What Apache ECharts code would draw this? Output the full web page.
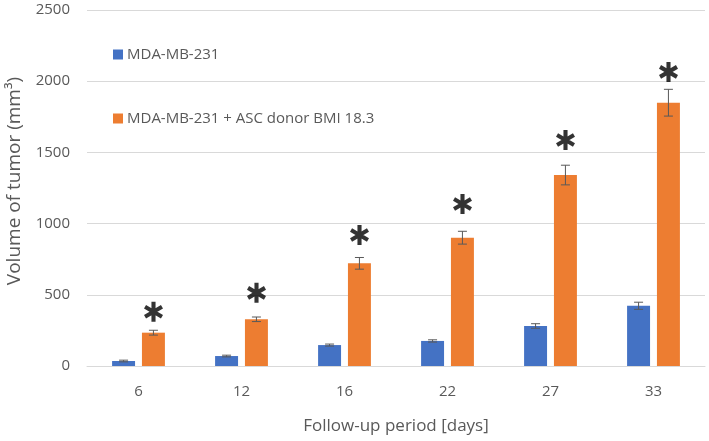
<!DOCTYPE html>
<html><head><meta charset="utf-8">
<script src="https://cdn.jsdelivr.net/npm/echarts@6/dist/echarts.min.js"></script>
<style>html,body{margin:0;padding:0;background:#fff}#c{width:709px;height:441px}</style>
</head><body><div id="c"></div>
<script>
const categories = ['6','12','16','22','27','33'];
const seriesNames = ['MDA-MB-231','MDA-MB-231 + ASC donor BMI 18.3'];
const blueValues = [35, 70, 147, 176, 281, 423];
const blueErrors = [6, 6, 7, 8, 16, 25];
const orangeValues = [234, 328, 721, 901, 1341, 1849];
const orangeErrors = [17, 16, 41, 45, 69, 94];
const asteriskY = [381, 514, 920, 1138, 1587, 2065];
const yTicks = [0, 500, 1000, 1500, 2000, 2500];

const BAR_W = 0.223, GAP = 0.3;
const textColor = '#595959';
const font = 'Open Sans';
const star = 'path://M-2.1,-10L2.1,-10L2.1,10L-2.1,10Z M7.61,-6.82L9.71,-3.18L-7.61,6.82L-9.71,3.18Z M-9.71,-3.18L-7.61,-6.82L9.71,3.18L7.61,6.82Z';

function errSeries(vals, errs, sign) {
  return {
    type: 'custom',
    silent: true,
    z: 5,
    data: vals.map((v, i) => [i, v, errs[i]]),
    encode: {x: 0, y: 1},
    renderItem: function (params, api) {
      const i = api.value(0), v = api.value(1), e = api.value(2);
      const band = api.size([1, 0])[0];
      const off = sign * band * BAR_W * (1 + GAP) / 2;
      const top = api.coord([i, v + e]);
      const bot = api.coord([i, v - e]);
      const x = top[0] + off;
      const cap = 4.5;
      const st = {stroke: '#595959', lineWidth: 1};
      return {type: 'group', children: [
        {type: 'line', shape: {x1: x, y1: top[1], x2: x, y2: bot[1]}, style: st},
        {type: 'line', shape: {x1: x - cap, y1: top[1], x2: x + cap, y2: top[1]}, style: st},
        {type: 'line', shape: {x1: x - cap, y1: bot[1], x2: x + cap, y2: bot[1]}, style: st}
      ]};
    }
  };
}

const chart = echarts.init(document.getElementById('c'), null, {renderer: 'canvas'});
chart.setOption({
  animation: false,
  textStyle: {fontFamily: font},
  grid: {left: 87, right: 4, top: 10, bottom: 75, containLabel: false, outerBoundsMode: 'none'},
  legend: {
    data: seriesNames.map(n => ({name: n, icon: 'rect'})),
    orient: 'vertical',
    left: 108, top: 42,
    itemWidth: 10, itemHeight: 10,
    itemGap: 49,
    textStyle: {fontFamily: font, fontSize: 15, color: textColor, padding: [0, 0, 0, -1]}
  },
  xAxis: {
    type: 'category',
    data: categories,
    axisTick: {show: false},
    axisLine: {lineStyle: {color: '#d9d9d9'}},
    axisLabel: {color: textColor, fontSize: 15, margin: 18, fontFamily: font},
    name: 'Follow-up period [days]',
    nameLocation: 'middle',
    nameGap: 52,
    nameTextStyle: {color: textColor, fontSize: 17, fontFamily: font}
  },
  yAxis: {
    type: 'value',
    min: yTicks[0], max: yTicks[yTicks.length - 1], interval: 500,
    axisLine: {show: false},
    axisTick: {show: false},
    splitLine: {lineStyle: {color: '#d9d9d9'}},
    axisLabel: {color: textColor, fontSize: 15, margin: 17, fontFamily: font, formatter: v => String(v)},
    name: 'Volume of tumor (mm³)',
    nameLocation: 'middle',
    nameGap: 63,
    nameRotate: 90,
    nameTextStyle: {color: textColor, fontSize: 19, fontFamily: font, padding: [0, 0, 0, 14]}
  },
  series: [
    {name: seriesNames[0], type: 'bar', data: blueValues, barWidth: (BAR_W * 100) + '%', barGap: (GAP * 100) + '%', itemStyle: {color: '#4472C4'}},
    {name: seriesNames[1], type: 'bar', data: orangeValues, barWidth: (BAR_W * 100) + '%', itemStyle: {color: '#ED7D31'}},
    errSeries(blueValues, blueErrors, -1),
    errSeries(orangeValues, orangeErrors, 1),
    {
      type: 'scatter', silent: true, z: 6,
      data: asteriskY,
      symbol: star,
      symbolSize: [19, 20],
      symbolOffset: [15, 0],
      itemStyle: {color: '#000'}
    }
  ]
});
</script></body></html>
